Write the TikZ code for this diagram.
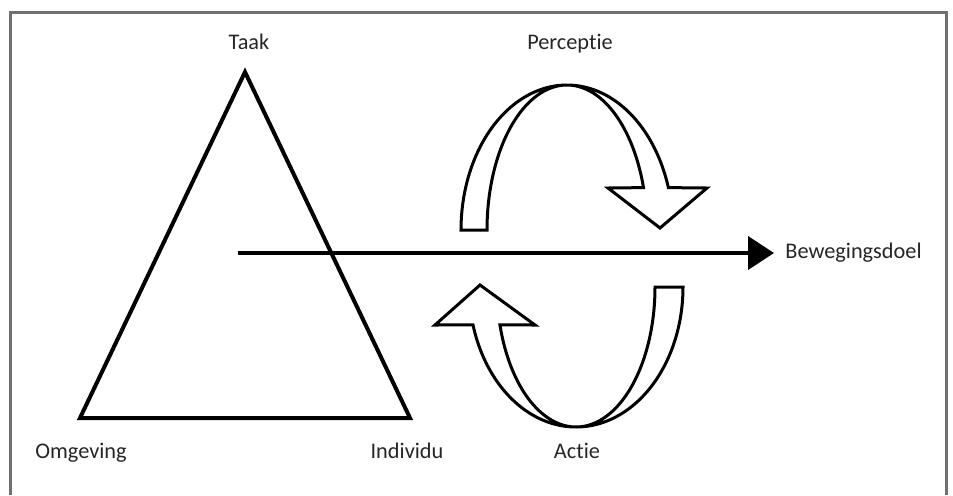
\documentclass[tikz,border=0pt]{standalone}
\usepackage{fontspec}
\setmainfont[RawFeature={-liga}]{Carlito}
\usetikzlibrary{arrows.meta}
\definecolor{framegray}{HTML}{707070}
\begin{document}
\begin{tikzpicture}[x=0.02cm,y=-0.02cm,
  lbl/.style={font=\fontsize{12.7}{15}\selectfont, inner sep=0pt, text=black!85},
  frameline/.style={draw=framegray, line width=0.06cm},
  triline/.style={draw=black, line width=0.08cm, line join=miter},
  mainarrow/.style={draw=black, line width=0.08cm, -{Triangle[length=0.52cm,width=0.66cm]}},
  bentarrow/.style={draw=black, fill=white, line width=0.06cm, line join=miter}
]
\useasboundingbox (0,0) rectangle (953,495);
% frame
\draw[frameline] (10.5,495) -- (10.5,12.5) -- (946.5,12.5) -- (946.5,495);

% triangle
\coordinate (top) at (245,72);
\coordinate (bl) at (80,418);
\coordinate (br) at (410,418);
\draw[triline] (top) -- (bl) -- (br) -- cycle;

% labels
\node[lbl, anchor=base] (taak) at (249,49) {Taak};
\node[lbl, anchor=base west] (omg) at (35,458) {Omgeving};
\node[lbl, anchor=base] (ind) at (407,458) {Individu};
\node[lbl, anchor=base] (perc) at (570,49) {Percept\kern0pt ie};
\node[lbl, anchor=base] (actie) at (577,458) {Act\kern0pt ie};
\node[lbl, anchor=base west] (bew) at (785,258) {Bewegingsdoel};

% main arrow
\coordinate (start) at (238,253);
\coordinate (goal) at (774,253);
\draw[mainarrow] (start) -- (goal);

% top curved arrow (Perceptie)
\draw[bentarrow]
  plot[domain=180:343, samples=80, smooth] ({567+106*cos(\x)},{230+145*sin(\x)})
  -- (707,188) -- (660,228) -- (608,188)
  -- plot[domain=343:180, samples=80, smooth] ({567+80*cos(\x)},{230+145*sin(\x)})
  -- cycle;

% bottom curved arrow (Actie)
\draw[bentarrow]
  plot[domain=0:164.3, samples=80, smooth] ({576+107*cos(\x)},{287+140*sin(\x)})
  -- (435,325) -- (480,285) -- (535,325)
  -- plot[domain=164.3:0, samples=80, smooth] ({576+79*cos(\x)},{287+140*sin(\x)})
  -- cycle;
\end{tikzpicture}
\end{document}
